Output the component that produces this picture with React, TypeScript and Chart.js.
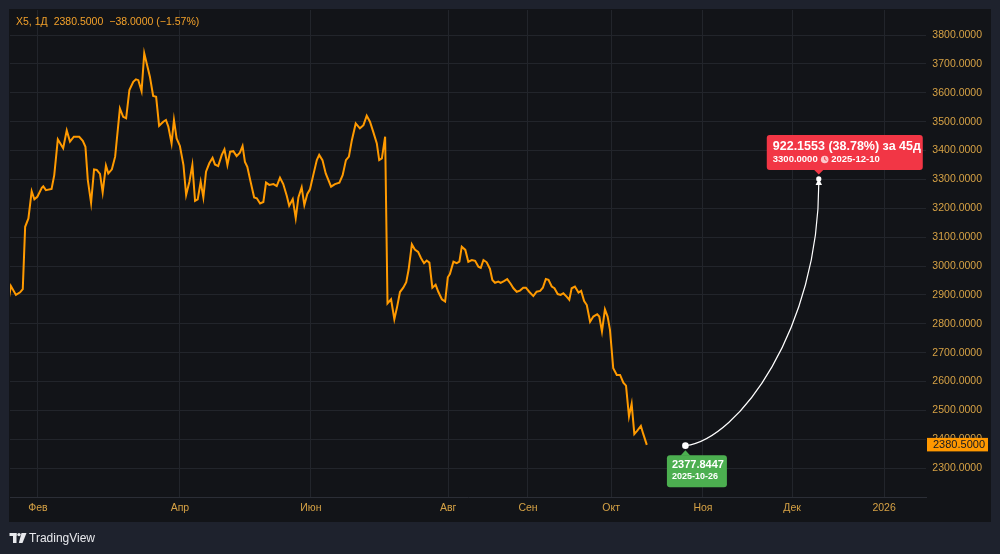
import React, { useEffect, useRef } from 'react';
import { Chart, registerables } from 'chart.js';

Chart.register(...registerables);

// ---------- data ----------
const symbolTitle = 'X5, 1Д';
const lastClose = 2380.5;
const changeAbs = -38.0;
const changePct = -1.57;

// bar index (trading bars from the left edge of the view) and close prices
const barIndex = [
  -0.3, 0.3, 2.0, 3.4, 4.3, 5.1, 6.2, 7.3, 8.2, 9.2,
  10.7, 11.2, 12.1, 14.0, 14.9, 16.1, 17.9, 19.1, 20.2, 21.5,
  23.3, 24.5, 25.4, 26.2, 27.3, 28.3, 29.2, 30.3, 31.2, 32.3,
  33.1, 34.3, 35.4, 37.0, 38.1, 39.1, 40.2, 41.5, 42.4, 43.2,
  44.3, 45.2, 47.1, 48.2, 49.2, 50.2, 51.6, 52.5, 53.3, 54.4,
  55.2, 56.1, 57.2, 58.4, 59.3, 60.4, 61.4, 62.3, 63.2, 64.2,
  65.1, 66.0, 67.1, 68.2, 69.0, 70.1, 71.3, 72.2, 73.2, 74.1,
  75.2, 76.3, 77.4, 78.3, 79.1, 79.9, 81.0, 82.2, 83.1, 84.2,
  85.3, 86.2, 87.3, 88.7, 89.8, 90.9, 92.0, 93.2, 94.0, 95.2,
  96.2, 97.1, 98.2, 99.1, 100.1, 101.0, 102.1, 103.3, 104.1, 105.2,
  106.3, 108.1, 109.4, 110.9, 112.0, 113.1, 114.1, 115.1, 116.4, 117.8,
  119.0, 120.1, 121.2, 122.3, 123.5, 124.3, 125.2, 126.3, 127.1, 128.3,
  129.4, 130.3, 131.3, 132.4, 133.4, 134.2, 135.3, 136.3, 137.4, 138.4,
  139.4, 140.3, 141.2, 142.2, 143.3, 144.2, 145.4, 146.5, 147.4, 148.1,
  149.3, 150.4, 151.3, 152.1, 153.3, 154.3, 155.5, 156.6, 157.7, 158.5,
  159.4, 160.5, 161.6, 162.4, 163.3, 164.4, 165.2, 166.3, 167.4, 168.6,
  169.5, 170.6, 171.7, 172.8, 173.7, 174.8, 176.2, 177.3, 178.5, 179.4,
  180.4, 181.3, 182.4, 183.3, 184.4, 185.4, 186.3, 187.4, 188.3, 189.1,
  190.2, 191.4, 192.3, 193.3, 194.2, 195.3, 196.4, 197.7, 198.4, 199.3,
  200.3, 201.2, 202.0, 203.1, 204.3, 205.4, 206.5, 207.4, 208.4, 209.3,
  210.2, 211.2, 212.4, 213.2, 214.4,
];

const closePrice = [
  2893, 2931, 2900, 2909, 2920, 3136, 3165, 3259, 3231, 3240,
  3271, 3276, 3263, 3267, 3315, 3439, 3408, 3470, 3431, 3448,
  3448, 3434, 3413, 3298, 3219, 3335, 3333, 3319, 3255, 3348,
  3321, 3335, 3379, 3546, 3517, 3512, 3610, 3638, 3647, 3644,
  3606, 3737, 3656, 3589, 3586, 3486, 3500, 3506, 3483, 3425,
  3506, 3442, 3416, 3350, 3246, 3292, 3350, 3226, 3231, 3292,
  3238, 3327, 3356, 3375, 3352, 3346, 3385, 3404, 3350, 3396,
  3398, 3381, 3393, 3416, 3361, 3344, 3292, 3238, 3235, 3217,
  3222, 3289, 3281, 3284, 3277, 3306, 3284, 3243, 3209, 3232,
  3166, 3238, 3273, 3211, 3250, 3266, 3315, 3367, 3385, 3367,
  3321, 3275, 3284, 3289, 3315, 3367, 3379, 3436, 3494, 3477,
  3488, 3521, 3500, 3465, 3425, 3367, 3373, 3448, 2871, 2885,
  2816, 2857, 2910, 2925, 2944, 2987, 3075, 3057, 3049, 3027,
  3010, 3019, 3012, 2925, 2935, 2911, 2885, 2877, 2961, 2972,
  3015, 3010, 3015, 3067, 3056, 3015, 3021, 3018, 2998, 2994,
  3021, 3013, 2990, 2952, 2942, 2946, 2942, 2948, 2955, 2938,
  2923, 2911, 2915, 2925, 2925, 2911, 2896, 2911, 2914, 2925,
  2955, 2952, 2929, 2923, 2903, 2900, 2906, 2894, 2883, 2923,
  2929, 2908, 2914, 2879, 2865, 2807, 2825, 2833, 2825, 2773,
  2850, 2825, 2779, 2646, 2623, 2623, 2596, 2586, 2479, 2523,
  2418, 2430, 2446, 2418.5, 2380.5,
];

// time axis
const monthTickIndex = [9.4, 57.2, 101.3, 147.5, 174.4, 202.4, 233.3, 263.3, 294.3];
const monthTickLabels = ['Фев', 'Апр', 'Июн', 'Авг', 'Сен', 'Окт', 'Ноя', 'Дек', '2026'];
const xMin = 0;
const xMax = 308.4;

// price axis
const yMin = 2200;
const yMax = 3887;
const yStep = 100;
const yLabelLow = 2300;
const yLabelHigh = 3800;

// forecast drawing
const forecastIndex = [227.4, 272.3];
const forecastValues = [2377.8447, 3300.0];
const forecastDates = ['2025-10-26', '2025-12-10'];
const forecastDelta = 922.1553;
const forecastPct = 38.78;
const forecastDays = 45;

// ---------- styles ----------
const W = 1000;
const H = 554;
const OUTER_BG = '#1e222d';
const PANEL_BG = '#121418';
const GRID = '#22252b';
const AXIS_LINE = '#2b2e36';
const AXIS_TEXT = '#d6a245';
const HEADER_TEXT = '#f3a12a';
const LINE = '#ff9a00';
const GREEN = '#4caf50';
const RED = '#f23645';
const FONT = '"Liberation Sans", Arial, sans-serif';

function roundRect(ctx: CanvasRenderingContext2D, x: number, y: number, w: number, h: number, r: number) {
  ctx.beginPath();
  ctx.moveTo(x + r, y);
  ctx.lineTo(x + w - r, y);
  ctx.arcTo(x + w, y, x + w, y + r, r);
  ctx.lineTo(x + w, y + h - r);
  ctx.arcTo(x + w, y + h, x + w - r, y + h, r);
  ctx.lineTo(x + r, y + h);
  ctx.arcTo(x, y + h, x, y + h - r, r);
  ctx.lineTo(x, y + r);
  ctx.arcTo(x, y, x + r, y, r);
  ctx.closePath();
}

const fmtSigned = (v: number, d: number) => (v < 0 ? '\u2212' : '') + Math.abs(v).toFixed(d);

export default function App() {
  const ref = useRef<HTMLCanvasElement>(null);

  useEffect(() => {
    const canvas = ref.current;
    if (!canvas) return;

    const overlay = {
      id: 'overlay',
      beforeDraw(chart: any) {
        const ctx: CanvasRenderingContext2D = chart.ctx;
        ctx.save();
        ctx.fillStyle = OUTER_BG;
        ctx.fillRect(0, 0, W, H);
        ctx.fillStyle = PANEL_BG;
        ctx.fillRect(9, 9, 982, 513);
        ctx.restore();
      },
      afterDraw(chart: any) {
        const ctx: CanvasRenderingContext2D = chart.ctx;
        const xs = chart.scales.x;
        const ys = chart.scales.y;
        ctx.save();

        // header
        ctx.font = `10.5px ${FONT}`;
        ctx.fillStyle = HEADER_TEXT;
        ctx.textBaseline = 'middle';
        ctx.textAlign = 'left';
        let hx = 16;
        const parts = [
          [symbolTitle, 6],
          [lastClose.toFixed(4), 6],
          [fmtSigned(changeAbs, 4), 3],
          [`(${fmtSigned(changePct, 2)}%)`, 0],
        ] as [string, number][];
        for (const [t, gap] of parts) {
          ctx.fillText(t, hx, 22);
          hx += ctx.measureText(t).width + gap;
        }

        // forecast curve
        const ax = xs.getPixelForValue(forecastIndex[0]);
        const ay = ys.getPixelForValue(forecastValues[0]);
        const bx = xs.getPixelForValue(forecastIndex[1]);
        const by = ys.getPixelForValue(forecastValues[1]);
        const dx = bx - ax;
        const dy = ay - by;
        ctx.strokeStyle = '#ffffff';
        ctx.lineWidth = 1.2;
        ctx.beginPath();
        ctx.moveTo(ax, ay);
        ctx.bezierCurveTo(ax + 0.4 * dx, ay - 0.023 * dy, bx, by + 0.56 * dy, bx, by + 4);
        ctx.stroke();

        // start dot
        ctx.fillStyle = '#ffffff';
        ctx.beginPath();
        ctx.arc(ax, ay, 3.3, 0, Math.PI * 2);
        ctx.fill();

        // target pin
        ctx.beginPath();
        ctx.arc(bx, by - 0.5, 2.6, 0, Math.PI * 2);
        ctx.fill();
        ctx.beginPath();
        ctx.moveTo(bx - 1.2, by + 1.5);
        ctx.lineTo(bx + 1.2, by + 1.5);
        ctx.lineTo(bx + 3.2, by + 5.5);
        ctx.lineTo(bx - 3.2, by + 5.5);
        ctx.closePath();
        ctx.fill();

        // red target label
        ctx.fillStyle = RED;
        roundRect(ctx, bx - 52, by - 44.5, 156, 35, 3);
        ctx.fill();
        ctx.beginPath();
        ctx.moveTo(bx - 5, by - 10);
        ctx.lineTo(bx + 5, by - 10);
        ctx.lineTo(bx, by - 5);
        ctx.closePath();
        ctx.fill();
        ctx.fillStyle = '#ffffff';
        ctx.font = `bold 12.5px ${FONT}`;
        ctx.fillText(
          `${forecastDelta.toFixed(4)} (${forecastPct.toFixed(2)}%) за ${forecastDays}д`,
          bx - 46,
          by - 32.5
        );
        ctx.font = `bold 9.5px ${FONT}`;
        const t1 = forecastValues[1].toFixed(4);
        ctx.fillText(t1, bx - 46, by - 20);
        const cx = bx - 46 + ctx.measureText(t1).width + 7;
        const cy = by - 20;
        ctx.fillStyle = 'rgba(255,255,255,0.72)';
        ctx.beginPath();
        ctx.arc(cx, cy, 3.8, 0, Math.PI * 2);
        ctx.fill();
        ctx.strokeStyle = RED;
        ctx.lineWidth = 1;
        ctx.beginPath();
        ctx.moveTo(cx, cy - 2.4);
        ctx.lineTo(cx, cy);
        ctx.lineTo(cx + 1.8, cy + 1);
        ctx.stroke();
        ctx.fillStyle = '#ffffff';
        ctx.fillText(forecastDates[1], cx + 6.5, cy);

        // green start label
        ctx.fillStyle = GREEN;
        roundRect(ctx, ax - 18.5, ay + 9.5, 60, 32, 3);
        ctx.fill();
        ctx.beginPath();
        ctx.moveTo(ax - 5, ay + 10);
        ctx.lineTo(ax + 5, ay + 10);
        ctx.lineTo(ax, ay + 4.5);
        ctx.closePath();
        ctx.fill();
        ctx.fillStyle = '#ffffff';
        ctx.font = `bold 11px ${FONT}`;
        ctx.fillText(forecastValues[0].toFixed(4), ax - 13.5, ay + 19);
        ctx.font = `bold 9px ${FONT}`;
        ctx.fillText(forecastDates[0], ax - 13.5, ay + 30.5);

        // last price label on price axis
        const py = ys.getPixelForValue(lastClose);
        ctx.fillStyle = '#ff9800';
        ctx.fillRect(927, py - 7, 61, 13.5);
        ctx.fillStyle = '#131722';
        ctx.font = `11px ${FONT}`;
        ctx.textAlign = 'right';
        ctx.fillText(lastClose.toFixed(4), 985, py);

        // TradingView logo
        ctx.textAlign = 'left';
        ctx.fillStyle = '#e8e9ed';
        ctx.fillRect(9.5, 533, 7, 3);
        ctx.fillRect(13, 533, 3.5, 10);
        ctx.beginPath();
        ctx.arc(19, 534.6, 1.7, 0, Math.PI * 2);
        ctx.fill();
        ctx.beginPath();
        ctx.moveTo(21.5, 533);
        ctx.lineTo(26.5, 533);
        ctx.lineTo(22.5, 543);
        ctx.lineTo(18.8, 543);
        ctx.closePath();
        ctx.fill();
        ctx.font = `12px ${FONT}`;
        ctx.fillText('TradingView', 29, 538.5);

        ctx.restore();
      },
    };

    const chart = new Chart(canvas, {
      type: 'line',
      data: {
        datasets: [
          {
            data: barIndex.map((x, i) => ({ x, y: closePrice[i] })),
            borderColor: LINE,
            borderWidth: 2,
            pointRadius: 0,
            tension: 0,
            fill: false,
          },
        ],
      },
      options: {
        responsive: false,
        animation: false,
        events: [],
        layout: { padding: { left: 10, top: 10, right: 18, bottom: 32 } },
        plugins: { legend: { display: false }, tooltip: { enabled: false } },
        scales: {
          x: {
            type: 'linear',
            min: xMin,
            max: xMax,
            grid: { color: GRID, drawTicks: false, lineWidth: 1 },
            border: { display: true, color: AXIS_LINE },
            ticks: {
              color: AXIS_TEXT,
              font: { family: FONT, size: 10.5 },
              padding: 5,
              maxRotation: 0,
              autoSkip: false,
              callback: (_v: any, i: number) => monthTickLabels[i] ?? '',
            },
            afterBuildTicks: (s: any) => {
              s.ticks = monthTickIndex.map((v) => ({ value: v }));
            },
            afterFit: (s: any) => {
              s.height = 25;
            },
          },
          y: {
            position: 'right',
            min: yMin,
            max: yMax,
            grid: { color: GRID, drawTicks: false, lineWidth: 1 },
            border: { display: false },
            ticks: {
              stepSize: yStep,
              includeBounds: false,
              color: AXIS_TEXT,
              font: { family: FONT, size: 10.5 },
              crossAlign: 'far',
              padding: 0,
              callback: (v: any) => Number(v).toFixed(4),
            },
            afterBuildTicks: (s: any) => {
              s.ticks = s.ticks.filter((t: any) => t.value >= yLabelLow && t.value <= yLabelHigh);
            },
            afterFit: (s: any) => {
              s.width = 56;
            },
          },
        },
      } as any,
      plugins: [overlay],
    });

    return () => chart.destroy();
  }, []);

  return (
    <div style={{ position: 'fixed', left: 0, top: 0, width: W, height: H, background: OUTER_BG }}>
      <canvas ref={ref} width={W} height={H} style={{ display: 'block', width: W, height: H }} />
    </div>
  );
}
